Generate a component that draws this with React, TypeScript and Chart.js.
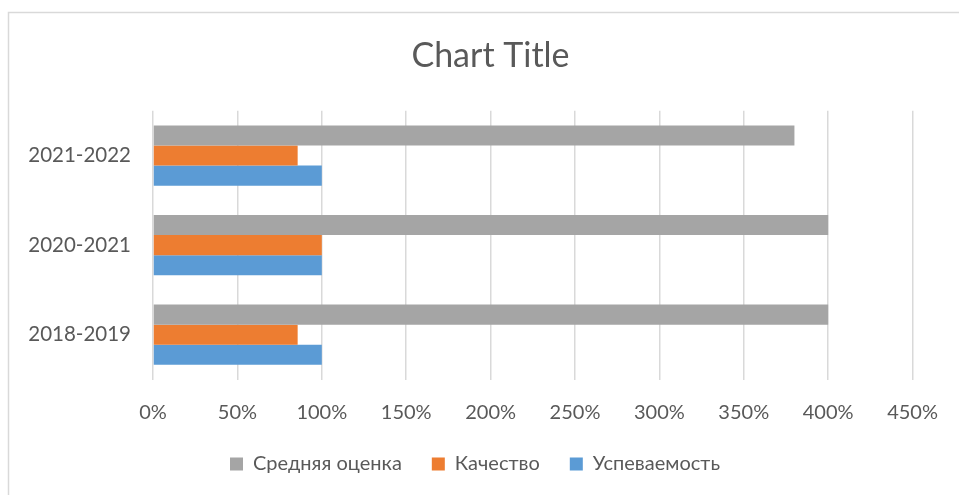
import React, { useEffect, useRef } from "react";
import { Chart, registerables } from "chart.js";

Chart.register(...registerables);

const categories = ["2018-2019", "2020-2021", "2021-2022"];
const seriesNames = ["Средняя оценка", "Качество", "Успеваемость"];
const averageGrade = [400, 400, 380];
const quality = [85.7, 100, 85.7];
const progress = [100, 100, 100];
const seriesColors = ["#a5a5a5", "#ed7d31", "#5b9bd5"];
const xMax = 450;
const xStep = 50;
const titleText = "Chart Title";

const FONT = "Lato, 'Open Sans', sans-serif";
const TEXT = "#595959";

const framePlugin = {
  id: "outerFrame",
  afterLayout(chart: any) {
    // Excel centres title / legend over a frame that extends past the visible area
    if (chart.titleBlock) {
      chart.titleBlock.left += 28;
      chart.titleBlock.right += 28;
    }
    if (chart.legend) {
      chart.legend.left += 12.5;
      chart.legend.right += 12.5;
    }
  },
  beforeDraw(chart: any) {
    const ctx = chart.ctx;
    ctx.save();
    ctx.strokeStyle = "#d9d9d9";
    ctx.lineWidth = 1.5;
    ctx.beginPath();
    ctx.moveTo(8.5, chart.height + 2);
    ctx.lineTo(8.5, 12.5);
    ctx.lineTo(chart.width + 2, 12.5);
    ctx.stroke();
    ctx.restore();
  },
};

export default function App() {
  const ref = useRef<HTMLCanvasElement | null>(null);

  useEffect(() => {
    if (!ref.current) return;
    const values = [averageGrade, quality, progress];
    const chart = new Chart(ref.current, {
      type: "bar",
      data: {
        labels: categories,
        datasets: seriesNames.map((name, i) => ({
          label: name,
          data: values[i],
          backgroundColor: seriesColors[i],
          borderColor: seriesColors[i],
          borderWidth: 0,
          categoryPercentage: 0.672,
          barPercentage: 1,
        })),
      },
      options: {
        indexAxis: "y",
        animation: false,
        responsive: false,
        devicePixelRatio: 1,
        layout: { padding: { left: 8, right: 42, top: 0, bottom: 11 } },
        plugins: {
          title: {
            display: true,
            text: titleText,
            color: TEXT,
            font: { family: FONT, size: 34, weight: "normal" },
            padding: { top: 36, bottom: 34 },
          },
          legend: {
            position: "bottom",
            labels: {
              color: TEXT,
              font: { family: FONT, size: 20 },
              boxWidth: 13,
              boxHeight: 13,
              padding: 30,
            },
          },
          tooltip: { enabled: false },
        },
        scales: {
          x: {
            min: 0,
            max: xMax,
            border: { display: false },
            grid: { color: "#d9d9d9", lineWidth: 1.5, drawTicks: false },
            ticks: {
              stepSize: xStep,
              color: TEXT,
              font: { family: FONT, size: 20 },
              padding: 21,
              callback: (v: any) => v + "%",
            },
            afterFit: (s: any) => {
              s.height = 44.5;
            },
          },
          y: {
            reverse: true,
            border: { display: false },
            grid: { display: false, drawTicks: false },
            ticks: {
              color: TEXT,
              font: { family: FONT, size: 20.5 },
              padding: 22,
            },
            afterFit: (s: any) => {
              s.width = 145;
            },
          },
        },
      },
      plugins: [framePlugin],
    });
    return () => chart.destroy();
  }, []);

  return (
    <div style={{ position: "fixed", left: 0, top: 0, width: 959, height: 495, background: "#fff" }}>
      <canvas ref={ref} width={959} height={495} style={{ display: "block" }} />
    </div>
  );
}
